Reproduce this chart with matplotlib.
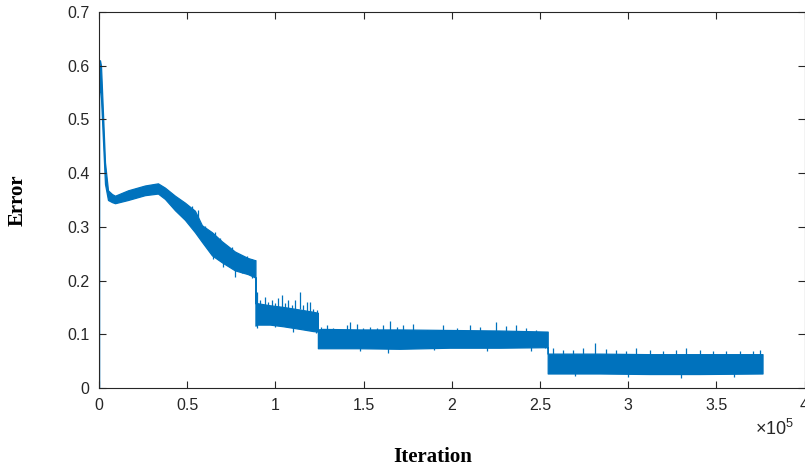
import matplotlib
matplotlib.use("Agg")
import matplotlib.pyplot as plt

OUTPUT = "out.png"
BLUE = "#0072BD"
DARK = "#262626"

# envelope of the noisy error curve (iteration, low, high)
iters = [0, 0, 570, 1130, 2270, 3400, 5100, 7400, 9100, 16430, 26060, 33430,
         37400, 43060, 48730, 54390, 58360, 64030, 69690, 77060, 84420, 88390,
         88700, 88700, 89520, 96890, 104250, 113900, 121250, 124100,
         124100, 126900, 147900, 170500, 198900, 227200, 254400,
         254400, 283900, 312200, 340500, 376200]
err_low = [0, 0.55, 0.56, 0.54, 0.46, 0.38, 0.350, 0.346, 0.344, 0.350, 0.359, 0.362,
           0.352, 0.331, 0.313, 0.290, 0.272, 0.247, 0.234, 0.219, 0.212, 0.206,
           0.206, 0.116, 0.118, 0.118, 0.115, 0.110, 0.106, 0.105,
           0.074, 0.074, 0.074, 0.073, 0.075, 0.075, 0.076,
           0.027, 0.027, 0.026, 0.026, 0.027]
err_high = [0, 0.61, 0.61, 0.60, 0.51, 0.42, 0.368, 0.361, 0.358, 0.368, 0.377, 0.381,
            0.373, 0.358, 0.345, 0.330, 0.303, 0.290, 0.273, 0.254, 0.242, 0.238,
            0.238, 0.158, 0.158, 0.154, 0.151, 0.146, 0.142, 0.140,
            0.109, 0.110, 0.109, 0.109, 0.108, 0.107, 0.105,
            0.064, 0.064, 0.063, 0.063, 0.063]

# noise spikes poking above the band (iteration, top value)
up_it = [89350, 91200, 94050, 95950, 97850, 99720, 101600, 103500, 105400,
         107300, 109200, 111050, 113900, 115750, 117700, 119550, 121400, 123350,
         126150, 129000, 132750, 136550, 140350, 142200, 146000, 149750, 153550,
         157350, 161100, 164900, 168700, 172400, 178100, 185700, 195100, 202700,
         210200, 215900, 224950, 231000, 236700, 242350, 248000, 252700,
         257400, 263100, 268750, 274400, 281000, 287650, 293300, 299000, 304650,
         312200, 319750, 327300, 332950, 340500, 348050, 355650, 363200, 370750,
         374500,
         52500, 56280, 65730, 68560, 75190, 80850, 83690, 86520]
up_val = [0.179, 0.164, 0.170, 0.161, 0.164, 0.158, 0.167, 0.173, 0.158,
          0.164, 0.155, 0.164, 0.178, 0.155, 0.161, 0.161, 0.148, 0.145,
          0.114, 0.117, 0.111, 0.108, 0.117, 0.123, 0.120, 0.111, 0.114,
          0.111, 0.117, 0.125, 0.114, 0.117, 0.119, 0.108, 0.117, 0.111,
          0.117, 0.114, 0.122, 0.115, 0.117, 0.111, 0.108, 0.105,
          0.074, 0.071, 0.071, 0.074, 0.083, 0.073, 0.071, 0.069, 0.074,
          0.071, 0.068, 0.071, 0.075, 0.071, 0.069, 0.068, 0.069, 0.068,
          0.071,
          0.338, 0.331, 0.291, 0.279, 0.263, 0.244, 0.245, 0.241]

# noise spikes dropping below the band (iteration, bottom value)
down_it = [89500, 99700, 110000, 123000, 148000, 164000, 190000, 220000,
           245000, 270000, 300000, 330000, 360000, 64760, 70430, 77060, 86520, 60000]
down_val = [0.112, 0.114, 0.105, 0.102, 0.068, 0.065, 0.070, 0.068,
            0.069, 0.022, 0.020, 0.019, 0.021, 0.241, 0.226, 0.207, 0.204, 0.272]

xticks = [0, 50000, 100000, 150000, 200000, 250000, 300000, 350000, 400000]
xtick_labels = ["0", "0.5", "1", "1.5", "2", "2.5", "3", "3.5", "4"]
yticks = [0, 0.1, 0.2, 0.3, 0.4, 0.5, 0.6, 0.7]
ytick_labels = ["0", "0.1", "0.2", "0.3", "0.4", "0.5", "0.6", "0.7"]

plt.rcParams["font.family"] = ["Liberation Sans", "DejaVu Sans"]
plt.rcParams["mathtext.fontset"] = "custom"
plt.rcParams["mathtext.rm"] = "Liberation Sans"

fig = plt.figure(figsize=(8.05, 4.69), dpi=100)
ax = fig.add_axes([99 / 805, 1 - 388 / 469, 705.5 / 805, 376 / 469])

ax.fill_between(iters, err_low, err_high, color=BLUE, linewidth=0.9,
                edgecolor=BLUE)
# spikes: short strokes that start inside the band
ax.vlines(up_it, [v - 0.03 for v in up_val], up_val, color=BLUE, linewidth=0.9)
ax.vlines(down_it, down_val, [v + 0.03 for v in down_val], color=BLUE,
          linewidth=0.9)

ax.set_xlim(0, 400000)
ax.set_ylim(0, 0.7)
ax.set_xticks(xticks)
ax.set_xticklabels(xtick_labels)
ax.set_yticks(yticks)
ax.set_yticklabels(ytick_labels)

ax.tick_params(direction="in", length=5, width=0.8, colors=DARK,
               labelsize=11.5, top=True, right=True)
ax.tick_params(axis="x", pad=7)
ax.tick_params(axis="y", pad=7)
for s in ax.spines.values():
    s.set_color(DARK)
    s.set_linewidth(0.8)

fig.text(18 / 805, 1 - 200 / 469, "Error", rotation=90, ha="center",
         va="center", fontsize=15, fontweight="bold",
         family=["Liberation Serif", "DejaVu Serif"], color="black")
fig.text(433 / 805, 1 - 457 / 469, "Iteration", ha="center", va="center",
         fontsize=15, fontweight="bold",
         family=["Liberation Serif", "DejaVu Serif"], color="black")
fig.text(794 / 805, 1 - 429 / 469, r"$\times10^{5}$", ha="right",
         va="center", fontsize=13, color=DARK)

fig.savefig(OUTPUT, dpi=100)
